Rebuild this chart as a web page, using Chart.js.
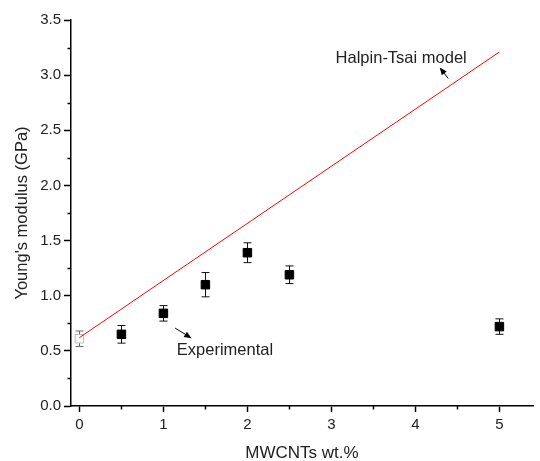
<!DOCTYPE html>
<html>
<head>
<meta charset="utf-8">
<script src="https://cdn.jsdelivr.net/npm/chart.js@4/dist/chart.umd.min.js"></script>
<style>
  html, body { margin: 0; padding: 0; background: #fff; }
</style>
</head>
<body>
<canvas id="modulusChart" width="540" height="461"></canvas>
<script>
// Measured Young's modulus vs MWCNT loading
const loadings = [0, 0.5, 1, 1.5, 2, 2.5, 5];
const modulus = [0.61, 0.65, 0.84, 1.10, 1.39, 1.19, 0.72];
const modulusErr = [0.07, 0.08, 0.07, 0.11, 0.09, 0.08, 0.07];

// Halpin-Tsai prediction (straight line)
const modelLoadings = [0, 5];
const modelModulus = [0.62, 3.21];

// Axis ticks
const xMajorTicks = [0, 1, 2, 3, 4, 5];
const xMinorTicks = [0.5, 1.5, 2.5, 3.5, 4.5];
const yMajorTicks = [0, 0.5, 1, 1.5, 2, 2.5, 3, 3.5];
const yMinorTicks = [0.25, 0.75, 1.25, 1.75, 2.25, 2.75, 3.25];

const FONT = '"Liberation Sans", Arial, sans-serif';
const TEXT = '#222';

// Draw an arrow with a filled head at (x2, y2)
function drawArrow(ctx, x1, y1, x2, y2) {
    const ang = Math.atan2(y2 - y1, x2 - x1);
    const len = 8, spread = 0.4;
    ctx.beginPath();
    ctx.moveTo(x1, y1);
    ctx.lineTo(x2 - Math.cos(ang) * 4, y2 - Math.sin(ang) * 4);
    ctx.stroke();
    ctx.beginPath();
    ctx.moveTo(x2, y2);
    ctx.lineTo(x2 - len * Math.cos(ang - spread), y2 - len * Math.sin(ang - spread));
    ctx.lineTo(x2 - len * Math.cos(ang + spread), y2 - len * Math.sin(ang + spread));
    ctx.closePath();
    ctx.fill();
}

// Error bars, minor ticks and the two text labels with arrows
const extrasPlugin = {
    id: 'extras',
    beforeDatasetsDraw(chart) {
        const { ctx, scales: { x, y } } = chart;
        ctx.save();
        ctx.lineWidth = 1;
        loadings.forEach((v, i) => {
            const px = Math.round(x.getPixelForValue(v)) + 0.5;
            const top = y.getPixelForValue(modulus[i] + modulusErr[i]);
            const bot = y.getPixelForValue(modulus[i] - modulusErr[i]);
            ctx.strokeStyle = i === 0 ? '#666' : '#111';
            ctx.beginPath();
            ctx.moveTo(px, top); ctx.lineTo(px, bot);
            ctx.moveTo(px - 4, top); ctx.lineTo(px + 4, top);
            ctx.moveTo(px - 4, bot); ctx.lineTo(px + 4, bot);
            ctx.stroke();
        });
        ctx.restore();
    },
    afterDraw(chart) {
        const { ctx, scales: { x, y } } = chart;
        ctx.save();
        ctx.strokeStyle = '#000';
        ctx.lineWidth = 1.5;
        // minor ticks
        const axisY = chart.chartArea.bottom;
        const axisX = chart.chartArea.left;
        xMinorTicks.forEach(v => {
            const px = Math.round(x.getPixelForValue(v)) + 0.5;
            ctx.beginPath(); ctx.moveTo(px, axisY); ctx.lineTo(px, axisY + 3.5); ctx.stroke();
        });
        yMinorTicks.forEach(v => {
            const py = Math.round(y.getPixelForValue(v)) + 0.5;
            ctx.beginPath(); ctx.moveTo(axisX, py); ctx.lineTo(axisX - 3.5, py); ctx.stroke();
        });

        // labels
        ctx.fillStyle = TEXT;
        ctx.font = '16.5px ' + FONT;
        ctx.textBaseline = 'middle';
        ctx.textAlign = 'left';
        ctx.fillText('Halpin-Tsai model', x.getPixelForValue(3.05), y.getPixelForValue(3.155));
        ctx.fillText('Experimental', x.getPixelForValue(1.16), y.getPixelForValue(0.50));

        ctx.strokeStyle = '#000';
        ctx.fillStyle = '#000';
        ctx.lineWidth = 1;
        drawArrow(ctx, x.getPixelForValue(4.39), y.getPixelForValue(2.97),
                       x.getPixelForValue(4.29), y.getPixelForValue(3.07));
        drawArrow(ctx, x.getPixelForValue(1.14), y.getPixelForValue(0.706),
                       x.getPixelForValue(1.335), y.getPixelForValue(0.615));
        ctx.restore();
    }
};

const ctx = document.getElementById('modulusChart').getContext('2d');
new Chart(ctx, {
    type: 'scatter',
    data: {
        datasets: [{
            label: 'Halpin-Tsai model',
            type: 'line',
            data: modelLoadings.map((v, i) => ({ x: v, y: modelModulus[i] })),
            borderColor: '#ff0000',
            borderWidth: 1,
            pointRadius: 0,
            fill: false,
            order: 0
        }, {
            label: 'Experimental',
            data: loadings.map((v, i) => ({ x: v, y: modulus[i] })),
            pointStyle: 'rect',
            pointRadius: 6,
            pointBackgroundColor: loadings.map((v, i) => i === 0 ? '#fff' : '#000'),
            pointBorderColor: loadings.map((v, i) => i === 0 ? '#bbb' : '#000'),
            pointBorderWidth: 1,
            order: 1
        }]
    },
    options: {
        responsive: false,
        animation: false,
        layout: { padding: { left: 0, top: 20, right: 4, bottom: 0 } },
        plugins: { legend: { display: false }, tooltip: { enabled: false } },
        scales: {
            x: {
                type: 'linear',
                min: -0.1,
                max: 5.4,
                afterBuildTicks: axis => { axis.ticks = xMajorTicks.map(v => ({ value: v })); },
                afterFit: axis => { axis.height = 55; },
                ticks: { font: { family: FONT, size: 15 }, color: TEXT, padding: 4,
                         callback: v => String(v), maxRotation: 0 },
                grid: { drawOnChartArea: false, tickLength: 6, tickColor: '#000', tickWidth: 1.5 },
                border: { color: '#000', width: 1.5 },
                title: { display: true, text: 'MWCNTs wt.%', color: TEXT,
                         font: { family: FONT, size: 17 }, padding: { top: 0, bottom: -3 } }
            },
            y: {
                min: 0,
                max: 3.5,
                afterBuildTicks: axis => { axis.ticks = yMajorTicks.map(v => ({ value: v })); },
                afterFit: axis => { axis.width = 71; },
                ticks: { font: { family: FONT, size: 15 }, color: TEXT, padding: 3,
                         callback: v => v.toFixed(1) },
                grid: { drawOnChartArea: false, tickLength: 7, tickColor: '#000', tickWidth: 1.5 },
                border: { color: '#000', width: 1.5 },
                title: { display: true, text: "Young's modulus (GPa)", color: TEXT,
                         font: { family: FONT, size: 16.5 }, padding: { top: 13, bottom: 0 } }
            }
        }
    },
    plugins: [extrasPlugin]
});
</script>
</body>
</html>
